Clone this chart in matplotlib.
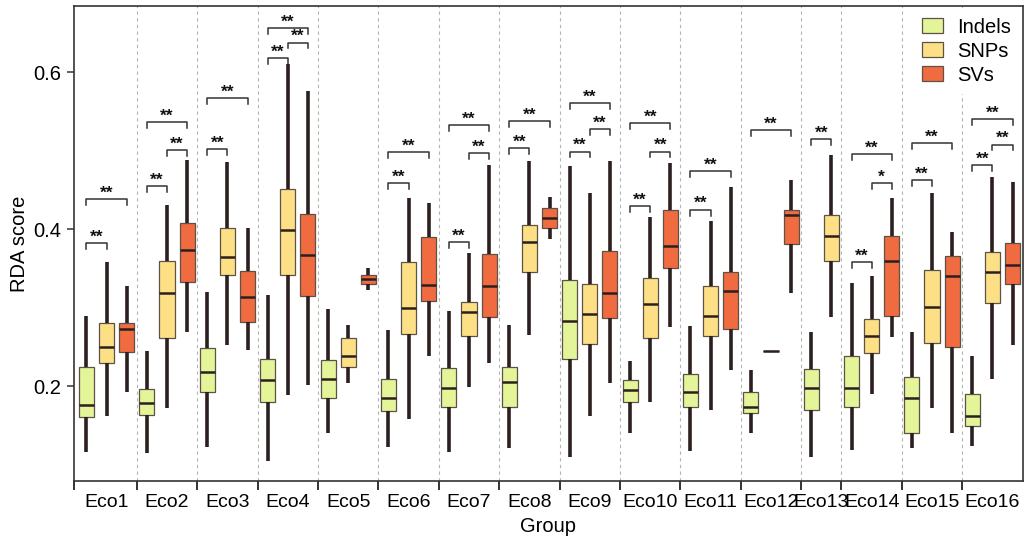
import matplotlib
matplotlib.use("Agg")
import matplotlib.pyplot as plt
from matplotlib.patches import Patch

plt.rcParams["font.family"] = ["Liberation Sans", "DejaVu Sans"]

# ---------------- data ----------------
groups = ["Eco1", "Eco2", "Eco3", "Eco4", "Eco5", "Eco6", "Eco7", "Eco8",
          "Eco9", "Eco10", "Eco11", "Eco12", "Eco13", "Eco14", "Eco15", "Eco16"]
series = ["Indels", "SNPs", "SVs"]

indels_lo  = [0.116, 0.115, 0.123, 0.105, 0.140, 0.123, 0.116, 0.121, 0.109, 0.140, 0.117, 0.140, 0.110, 0.118, 0.121, 0.124]
indels_q1  = [0.161, 0.163, 0.193, 0.180, 0.185, 0.168, 0.173, 0.174, 0.235, 0.180, 0.174, 0.166, 0.169, 0.174, 0.140, 0.149]
indels_med = [0.176, 0.179, 0.218, 0.208, 0.209, 0.185, 0.198, 0.205, 0.283, 0.195, 0.192, 0.173, 0.197, 0.197, 0.185, 0.162]
indels_q3  = [0.225, 0.196, 0.249, 0.235, 0.233, 0.209, 0.223, 0.224, 0.335, 0.208, 0.216, 0.193, 0.222, 0.239, 0.212, 0.190]
indels_hi  = [0.290, 0.245, 0.320, 0.316, 0.298, 0.271, 0.296, 0.278, 0.480, 0.232, 0.277, 0.220, 0.269, 0.331, 0.269, 0.239]

snps_lo  = [0.162, 0.172, 0.253, 0.189, 0.204, 0.158, 0.199, 0.265, 0.162, 0.180, 0.170, 0.245, 0.288, 0.190, 0.172, 0.209]
snps_q1  = [0.230, 0.261, 0.342, 0.342, 0.225, 0.267, 0.264, 0.345, 0.254, 0.261, 0.264, 0.245, 0.359, 0.242, 0.255, 0.306]
snps_med = [0.250, 0.319, 0.365, 0.399, 0.239, 0.299, 0.294, 0.384, 0.292, 0.305, 0.289, 0.245, 0.391, 0.264, 0.301, 0.346]
snps_q3  = [0.281, 0.359, 0.401, 0.451, 0.261, 0.358, 0.307, 0.406, 0.330, 0.338, 0.328, 0.245, 0.418, 0.286, 0.348, 0.371]
snps_hi  = [0.358, 0.431, 0.486, 0.611, 0.278, 0.440, 0.370, 0.487, 0.446, 0.415, 0.410, 0.245, 0.495, 0.341, 0.446, 0.467]

svs_lo  = [0.192, 0.269, 0.246, 0.202, 0.322, 0.238, 0.230, 0.388, 0.204, 0.275, 0.221, 0.319, None, 0.263, 0.140, 0.253]
svs_q1  = [0.243, 0.333, 0.282, 0.315, 0.330, 0.308, 0.288, 0.401, 0.287, 0.350, 0.273, 0.381, None, 0.289, 0.250, 0.330]
svs_med = [0.273, 0.374, 0.313, 0.367, 0.337, 0.329, 0.328, 0.414, 0.319, 0.379, 0.321, 0.418, None, 0.359, 0.341, 0.355]
svs_q3  = [0.281, 0.408, 0.347, 0.420, 0.342, 0.390, 0.368, 0.427, 0.372, 0.425, 0.345, 0.424, None, 0.392, 0.366, 0.382]
svs_hi  = [0.327, 0.488, 0.401, 0.576, 0.350, 0.434, 0.482, 0.441, 0.487, 0.485, 0.454, 0.463, None, 0.440, 0.397, 0.460]

# significance comparisons: (group, series a, series b, bracket height, label)
comparisons = [
    ("Eco1", "Indels", "SNPs", 0.382, "**"), ("Eco1", "Indels", "SVs", 0.438, "**"),
    ("Eco2", "Indels", "SNPs", 0.455, "**"), ("Eco2", "SNPs", "SVs", 0.501, "**"), ("Eco2", "Indels", "SVs", 0.537, "**"),
    ("Eco3", "Indels", "SNPs", 0.502, "**"), ("Eco3", "Indels", "SVs", 0.567, "**"),
    ("Eco4", "Indels", "SNPs", 0.618, "**"), ("Eco4", "SNPs", "SVs", 0.638, "**"), ("Eco4", "Indels", "SVs", 0.656, "**"),
    ("Eco6", "Indels", "SNPs", 0.459, "**"), ("Eco6", "Indels", "SVs", 0.498, "**"),
    ("Eco7", "Indels", "SNPs", 0.384, "**"), ("Eco7", "SNPs", "SVs", 0.497, "**"), ("Eco7", "Indels", "SVs", 0.533, "**"),
    ("Eco8", "Indels", "SNPs", 0.503, "**"), ("Eco8", "Indels", "SVs", 0.538, "**"),
    ("Eco9", "Indels", "SNPs", 0.499, "**"), ("Eco9", "SNPs", "SVs", 0.528, "**"), ("Eco9", "Indels", "SVs", 0.561, "**"),
    ("Eco10", "Indels", "SNPs", 0.430, "**"), ("Eco10", "SNPs", "SVs", 0.499, "**"), ("Eco10", "Indels", "SVs", 0.535, "**"),
    ("Eco11", "Indels", "SNPs", 0.425, "**"), ("Eco11", "Indels", "SVs", 0.474, "**"),
    ("Eco12", "Indels", "SVs", 0.526, "**"),
    ("Eco13", "Indels", "SNPs", 0.515, "**"),
    ("Eco14", "Indels", "SNPs", 0.358, "**"), ("Eco14", "SNPs", "SVs", 0.459, "*"), ("Eco14", "Indels", "SVs", 0.496, "**"),
    ("Eco15", "Indels", "SNPs", 0.463, "**"), ("Eco15", "Indels", "SVs", 0.510, "**"),
    ("Eco16", "Indels", "SNPs", 0.482, "**"), ("Eco16", "SNPs", "SVs", 0.508, "**"), ("Eco16", "Indels", "SVs", 0.540, "**"),
]

# ---------------- style ----------------
colors = {"Indels": "#E4F499", "SNPs": "#FDE086", "SVs": "#F06B40"}
EDGE = "#5c5246"
DARK = "#2b1f1f"
FS = 14.5
FS_X = 14

stats_by_series = {
    "Indels": (indels_lo, indels_q1, indels_med, indels_q3, indels_hi),
    "SNPs": (snps_lo, snps_q1, snps_med, snps_q3, snps_hi),
    "SVs": (svs_lo, svs_q1, svs_med, svs_q3, svs_hi),
}

# dodge slots: one slot per present box, groups consecutive
slot = {}
counter = 0
group_slots = []
for gi, g in enumerate(groups):
    these = []
    for s in series:
        if stats_by_series[s][2][gi] is not None:
            slot[(g, s)] = counter
            these.append(counter)
            counter += 1
    group_slots.append(these)

fig = plt.figure(figsize=(10.25, 5.42), dpi=100)
ax = fig.add_axes([0.0722, 0.1125, 0.9255, 0.877])

XMIN, XMAX = -0.62, counter - 0.5
ax.set_xlim(XMIN, XMAX)
ax.set_ylim(0.079, 0.685)

boundaries = [group_slots[i][-1] + 0.5 for i in range(len(groups) - 1)]
for b in boundaries:
    ax.axvline(b, color="#b5b5b5", lw=0.8, ls=(0, (3, 3)), zorder=0)

for s in series:
    lo, q1, med, q3, hi = stats_by_series[s]
    stats, pos = [], []
    for gi, g in enumerate(groups):
        if med[gi] is None:
            continue
        stats.append(dict(whislo=lo[gi], q1=q1[gi], med=med[gi], q3=q3[gi], whishi=hi[gi], label=""))
        pos.append(slot[(g, s)])
    ax.bxp(stats, positions=pos, widths=0.75, patch_artist=True,
           showcaps=False, showfliers=False, manage_ticks=False,
           boxprops=dict(facecolor=colors[s], edgecolor=EDGE, linewidth=0.9),
           whiskerprops=dict(color=DARK, linewidth=2.6, solid_capstyle="butt"),
           medianprops=dict(color=DARK, linewidth=1.8, solid_capstyle="butt"),
           zorder=3)

tick_h = 0.0075
for g, a, b, y, lab in comparisons:
    x1, x2 = slot[(g, a)], slot[(g, b)]
    ax.plot([x1, x1, x2, x2], [y - tick_h, y, y, y - tick_h], color="#333333", lw=1.1, zorder=4)
    ax.text((x1 + x2) / 2, y - 0.002, lab, ha="center", va="bottom", fontsize=12.5,
            fontweight="bold", color="#111111", zorder=5)

# axes, ticks
ax.set_xticks([XMIN] + boundaries)
ax.set_xticklabels([])
ax.set_xticks([sum(gs) / len(gs) for gs in group_slots], minor=True)
ax.set_xticklabels(groups, minor=True, fontsize=FS_X)
ax.tick_params(axis="x", which="major", length=6.5, width=1.4, color="#333333", direction="out")
ax.tick_params(axis="x", which="minor", length=0, pad=9)
ax.set_yticks([0.2, 0.4, 0.6])
ax.set_yticklabels(["0.2", "0.4", "0.6"], fontsize=FS)
ax.tick_params(axis="y", length=5, width=1.1, color="#333333", pad=4)
for sp in ax.spines.values():
    sp.set_color("#333333")
    sp.set_linewidth(1.2)
ax.set_xlabel("Group", fontsize=FS, labelpad=5)
ax.set_ylabel("RDA score", fontsize=FS, labelpad=3)

handles = [Patch(facecolor=colors[s], edgecolor=EDGE, linewidth=0.9, label=s) for s in series]
leg = ax.legend(handles=handles, loc="upper right", fontsize=FS, frameon=True,
                facecolor="white", edgecolor="white", framealpha=1,
                handlelength=1.0, handleheight=0.75, labelspacing=0.25,
                handletextpad=0.7, borderaxespad=0.2)
leg.set_zorder(10)

fig.savefig("out.png", dpi=100)
